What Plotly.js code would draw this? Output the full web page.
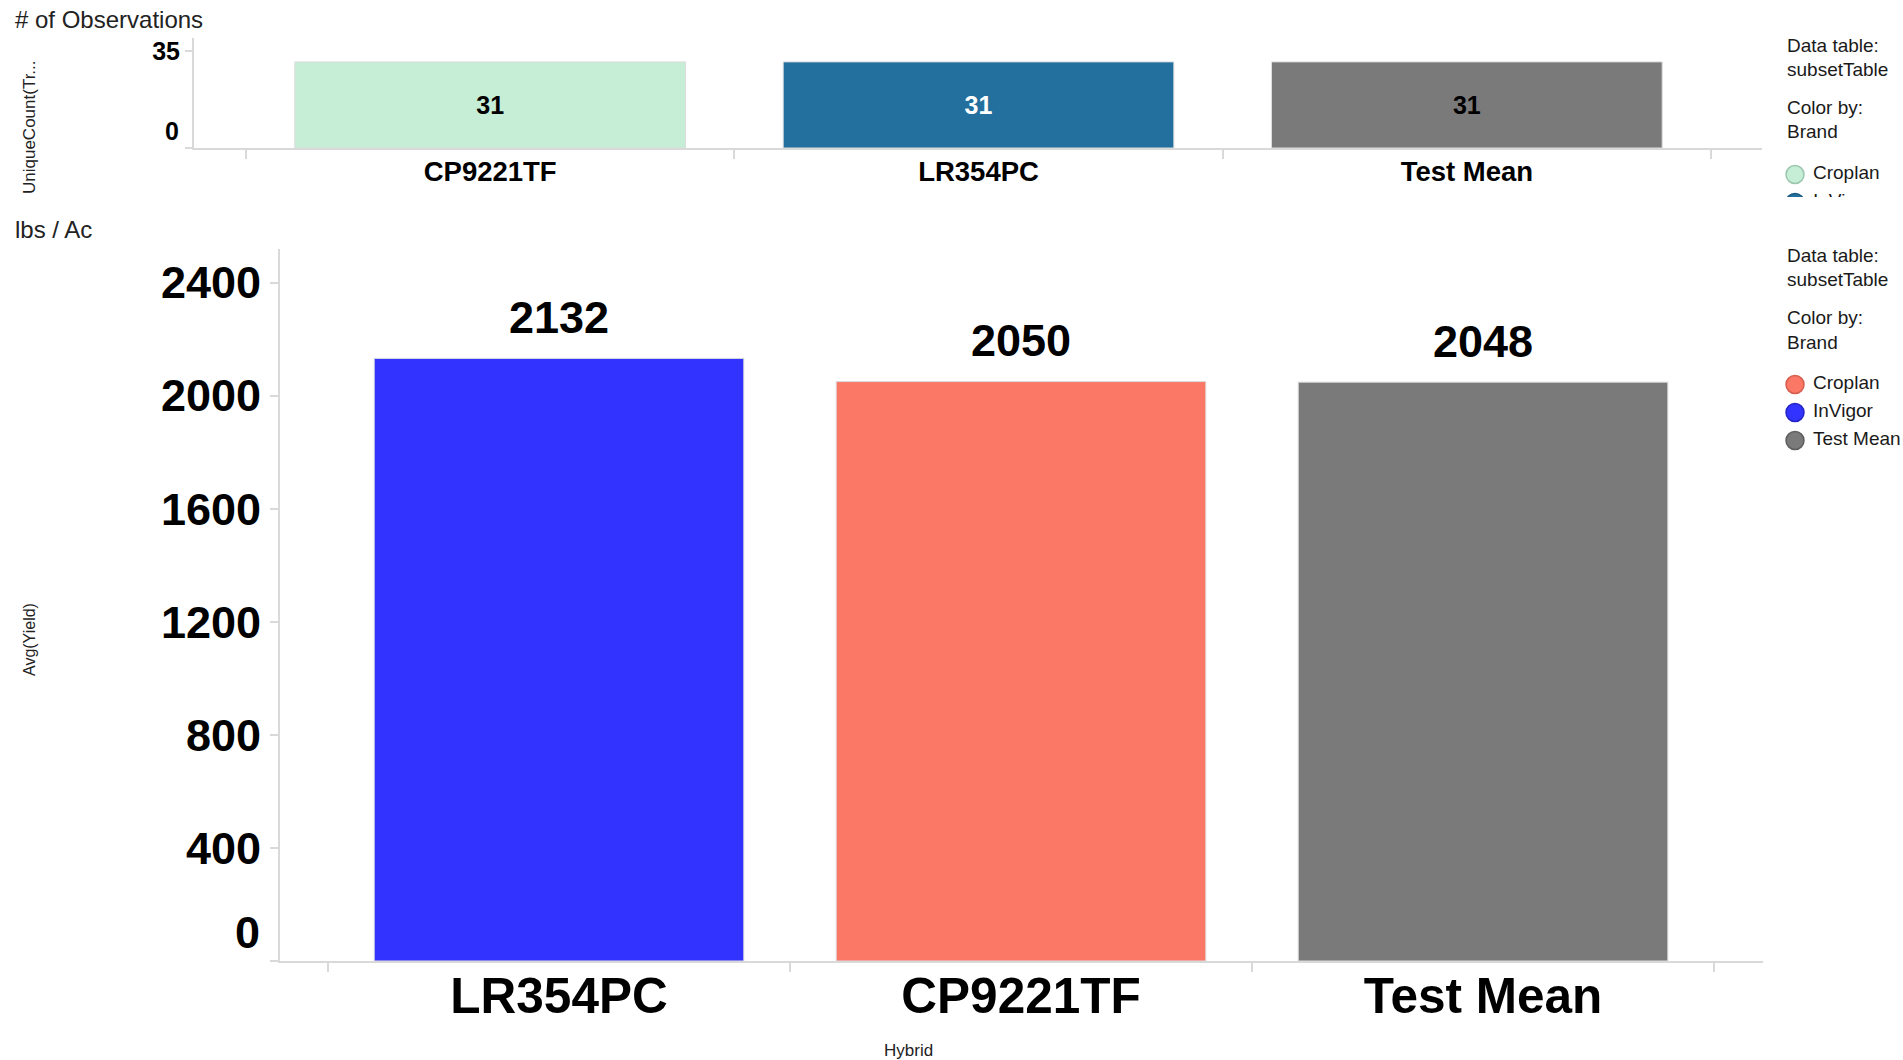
<!DOCTYPE html>
<html>
<head>
<meta charset="utf-8">
<script src="https://cdn.plot.ly/plotly-3.0.1.min.js"></script>
<style>
  html, body { margin: 0; padding: 0; background: #fff; }
  #chart { width: 1903px; height: 1060px; }
</style>
</head>
<body>
<div id="chart"></div>
<script>
// ---- data ----
const obsHybrids = ['CP9221TF', 'LR354PC', 'Test Mean'];
const obsBrands = ['Croplan', 'InVigor', 'Test Mean'];
const obsCounts = [31, 31, 31];

const yieldHybrids = ['LR354PC', 'CP9221TF', 'Test Mean'];
const yieldBrands = ['InVigor', 'Croplan', 'Test Mean'];
const yieldValues = [2132, 2050, 2048];

const legendBrands = ['Croplan', 'InVigor', 'Test Mean'];
const obsTicks = [0, 35];
const yieldTicks = [0, 400, 800, 1200, 1600, 2000, 2400];

// ---- styles ----
const obsColors = { 'Croplan': '#c6edd5', 'InVigor': '#236f9e', 'Test Mean': '#7a7a7a' };
const obsEdge = { 'Croplan': '#9cc7ae', 'InVigor': '#1b5a80', 'Test Mean': '#5e5e5e' };
const obsTextColors = { 'Croplan': '#000000', 'InVigor': '#ffffff', 'Test Mean': '#000000' };
const yieldColors = { 'Croplan': '#fb7766', 'InVigor': '#3333ff', 'Test Mean': '#7a7a7a' };
const yieldEdge = { 'Croplan': '#d65e4f', 'InVigor': '#2424c8', 'Test Mean': '#5e5e5e' };

const W = 1903, H = 1060;
const px = v => v / W;
const py = v => 1 - v / H;
const FONT = 'Liberation Sans, Arial, sans-serif';
const AX = '#d9d9d9';
const LEG_FONT = { family: FONT, size: 19, color: '#1a1a1a' };

function legendTraces(colors, edges, xa, ya) {
  return [
    {
      type: 'scatter', mode: 'markers', xaxis: xa, yaxis: ya,
      x: legendBrands.map(() => 0), y: legendBrands.map((b, i) => i),
      marker: { size: 18, color: legendBrands.map(b => colors[b]), line: { width: 1.5, color: legendBrands.map(b => edges[b]) } },
      cliponaxis: true, hoverinfo: 'skip', showlegend: false
    },
    {
      type: 'scatter', mode: 'text', xaxis: xa, yaxis: ya,
      x: legendBrands.map(() => 18), y: legendBrands.map((b, i) => i),
      text: legendBrands, textposition: 'middle right', textfont: LEG_FONT,
      cliponaxis: true, hoverinfo: 'skip', showlegend: false
    }
  ];
}

const traces = [
  {
    type: 'bar', xaxis: 'x', yaxis: 'y',
    x: obsHybrids, y: obsCounts, width: 0.8,
    marker: { color: obsBrands.map(b => obsColors[b]), line: { color: '#dcdcdc', width: 1 } },
    text: obsCounts.map(String), textposition: 'inside', insidetextanchor: 'middle',
    textfont: { family: FONT, size: 25, weight: 'bold', color: obsBrands.map(b => obsTextColors[b]) },
    hoverinfo: 'skip', showlegend: false
  },
  {
    type: 'bar', xaxis: 'x2', yaxis: 'y2',
    x: yieldHybrids, y: yieldValues, width: 0.8,
    marker: { color: yieldBrands.map(b => yieldColors[b]), line: { color: '#dcdcdc', width: 1 } },
    hoverinfo: 'skip', showlegend: false
  }
].concat(legendTraces(obsColors, obsEdge, 'x3', 'y3'))
 .concat(legendTraces(yieldColors, yieldEdge, 'x4', 'y4'));

const catAxisCommon = {
  type: 'category', showline: true, linecolor: AX, linewidth: 2,
  ticks: 'outside', tickson: 'boundaries', tickcolor: AX, tickwidth: 2,
  showgrid: false, zeroline: false, fixedrange: true
};

function note(text, x, y, opts) {
  return Object.assign({ text: text, xref: 'paper', yref: 'paper', x: px(x), y: py(y), xanchor: 'left', yanchor: 'middle', showarrow: false }, opts);
}

const annotations = [
  note('# of Observations', 13, 20, { font: { family: FONT, size: 24, color: '#222' } }),
  note('lbs / Ac', 13, 229, { font: { family: FONT, size: 24, color: '#222' } }),
  note('UniqueCount(Tr...', 29, 127, { textangle: -90, xanchor: 'center', font: { family: FONT, size: 17, color: '#222' } }),
  note('Avg(Yield)', 29, 640, { textangle: -90, xanchor: 'center', font: { family: FONT, size: 16, color: '#222' } }),
  note('Hybrid', 908, 1050, { xanchor: 'center', font: { family: FONT, size: 17, color: '#222' } }),
  // legend headers
  note('Data table:', 1785, 45, { font: LEG_FONT }),
  note('subsetTable', 1785, 70, { font: LEG_FONT }),
  note('Color by:', 1785, 107, { font: LEG_FONT }),
  note('Brand', 1785, 132, { font: LEG_FONT }),
  note('Data table:', 1785, 255, { font: LEG_FONT }),
  note('subsetTable', 1785, 280, { font: LEG_FONT }),
  note('Color by:', 1785, 317, { font: LEG_FONT }),
  note('Brand', 1785, 342, { font: LEG_FONT }),
  // zero labels (drawn raised, as in the reference)
  { text: '0', xref: 'paper', yref: 'y', x: px(194), y: 0, xanchor: 'right', yanchor: 'middle', xshift: -13, yshift: 17, showarrow: false, font: { family: FONT, size: 25, weight: 'bold', color: '#000' } },
  { text: '0', xref: 'paper', yref: 'y2', x: px(280), y: 0, xanchor: 'right', yanchor: 'middle', xshift: -18, yshift: 29, showarrow: false, font: { family: FONT, size: 45, weight: 'bold', color: '#000' } }
];

// value labels above the yield bars
yieldHybrids.forEach((h, i) => {
  annotations.push({
    text: String(yieldValues[i]), xref: 'x2', yref: 'y2', x: h, y: yieldValues[i],
    xanchor: 'center', yanchor: 'middle', yshift: 41, showarrow: false,
    font: { family: FONT, size: 45, weight: 'bold', color: '#000' }
  });
});

const layout = {
  width: W, height: H,
  margin: { l: 0, r: 0, t: 0, b: 0 },
  paper_bgcolor: '#ffffff', plot_bgcolor: '#ffffff',
  font: { family: FONT, color: '#000' },
  showlegend: false,
  xaxis: Object.assign({}, catAxisCommon, {
    domain: [px(194), px(1762)], anchor: 'y',
    range: [-0.6065, 2.6044], ticklen: 9, ticklabelstandoff: -2,
    tickfont: { family: FONT, size: 27.5, weight: 'bold', color: '#000' }
  }),
  yaxis: {
    domain: [py(148), py(38)], anchor: 'x',
    range: [0, 39.6], tickvals: obsTicks, ticktext: obsTicks.map(v => v === 0 ? '' : String(v)),
    showline: true, linecolor: AX, linewidth: 2, ticks: 'outside', ticklen: 7, tickcolor: AX, tickwidth: 2,
    showgrid: false, zeroline: false, fixedrange: true,
    tickfont: { family: FONT, size: 25, weight: 'bold', color: '#000' }
  },
  xaxis2: Object.assign({}, catAxisCommon, {
    domain: [px(280), px(1763)], anchor: 'y2',
    range: [-0.6039, 2.606], ticklen: 9, ticklabelstandoff: -9,
    tickfont: { family: FONT, size: 49.5, weight: 'bold', color: '#000' }
  }),
  yaxis2: {
    domain: [py(961), py(249)], anchor: 'x2',
    range: [0, 2519], tickvals: yieldTicks, ticktext: yieldTicks.map(v => v === 0 ? '' : String(v)),
    showline: true, linecolor: AX, linewidth: 2, ticks: 'outside', ticklen: 8, tickcolor: AX, tickwidth: 2,
    showgrid: false, zeroline: false, fixedrange: true,
    tickfont: { family: FONT, size: 45, weight: 'bold', color: '#000' }
  },
  // legend subplots (1 unit = 1px in x, 28px per row in y)
  xaxis3: { domain: [px(1780), 1], anchor: 'y3', range: [-15, 108], visible: false, fixedrange: true },
  yaxis3: { domain: [py(197), py(158)], anchor: 'x3', range: [22.5 / 28, -16.5 / 28], visible: false, fixedrange: true },
  xaxis4: { domain: [px(1780), 1], anchor: 'y4', range: [-15, 108], visible: false, fixedrange: true },
  yaxis4: { domain: [py(460), py(366)], anchor: 'x4', range: [75.5 / 28, -18.5 / 28], visible: false, fixedrange: true },
  annotations: annotations
};

Plotly.newPlot('chart', traces, layout, { displayModeBar: false, staticPlot: true });
</script>
</body>
</html>
